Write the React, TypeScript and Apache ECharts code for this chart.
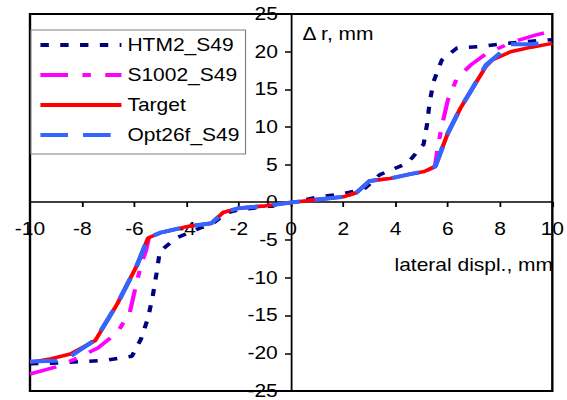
import React, { useEffect, useRef } from "react";
import * as echarts from "echarts";

// x ticks / y ticks
const xTicks = [-10, -8, -6, -4, -2, 0, 2, 4, 6, 8, 10];
const yTicks = [-25, -20, -15, -10, -5, 0, 5, 10, 15, 20, 25];

const seriesNames = ["HTM2_S49", "S1002_S49", "Target", "Opt26f_S49"];

// [lateral displ., Δr]
const htm2: number[][] = [
  [-10, -21.4], [-8.95, -21.3], [-8.0, -21.1], [-7.05, -20.9], [-6.1, -20.4],
  [-5.75, -18.1], [-5.48, -15.3], [-5.3, -12.4], [-5.16, -9.5], [-5.03, -6.5],
  [-4.4, -4.7], [-3.5, -3.4], [-3.0, -2.8], [-2.5, -1.4], [-1.9, -0.9],
  [-1.0, -0.6], [0, 0], [1.0, 0.7], [1.95, 1.15], [2.8, 1.8], [3.4, 3.7],
  [4.45, 5.2], [5.07, 7.7], [5.2, 10.3], [5.3, 13.2], [5.45, 16.0],
  [5.77, 18.9], [6.35, 20.5], [7.3, 20.7], [8.2, 21.1], [9.2, 21.4], [10, 21.6],
];

const s1002: number[][] = [
  [-10, -22.75], [-9.0, -21.8], [-8.3, -20.8], [-7.4, -19.3], [-6.65, -17.2],
  [-6.18, -14.6], [-5.93, -10.8], [-5.74, -8.2], [-5.55, -6.3], [-5.45, -4.7],
  [-5.0, -4.0], [-4.0, -3.2], [-3.05, -2.75], [-2.6, -1.3], [-2.0, -0.75],
  [-1.0, -0.45], [0, 0], [1.0, 0.4], [2.0, 0.75], [2.5, 1.3], [3.0, 2.85],
  [3.8, 3.2], [4.6, 3.8], [5.1, 4.1], [5.5, 4.7], [5.64, 7.9], [5.84, 11.2],
  [6.0, 13.6], [6.35, 16.5], [6.9, 18.3], [7.5, 19.8], [8.5, 21.3],
  [9.35, 22.2], [10, 22.75],
];

const target: number[][] = [
  [-10, -21.2], [-9.3, -20.8], [-8.45, -20.1], [-7.5, -18.3], [-6.65, -13.4],
  [-5.9, -8.3], [-5.48, -4.7], [-5.0, -4.0], [-4.0, -3.2], [-3.05, -2.75],
  [-2.6, -1.3], [-2.0, -0.75], [-1.0, -0.45], [0, 0], [1.0, 0.4], [2.0, 0.75],
  [2.5, 1.3], [3.0, 2.85], [3.8, 3.2], [4.6, 3.8], [5.1, 4.1], [5.52, 4.8],
  [6.0, 9.2], [6.48, 12.5], [6.9, 14.9], [7.45, 18.0], [7.7, 18.9],
  [8.4, 20.0], [9.2, 20.6], [10, 21.1],
];

const opt26f: number[][] = [
  [-10, -21.1], [-9.0, -21.0], [-8.45, -20.4], [-7.5, -18.2], [-6.65, -13.4],
  [-5.9, -8.3], [-5.48, -4.7], [-5.0, -4.0], [-4.0, -3.2], [-3.05, -2.75],
  [-2.6, -1.3], [-2.0, -0.75], [-1.0, -0.45], [0, 0], [1.0, 0.4], [2.0, 0.75],
  [2.5, 1.3], [3.0, 2.85], [3.8, 3.2], [4.6, 3.8], [5.1, 4.1], [5.52, 4.8],
  [6.0, 9.2], [6.48, 12.5], [6.9, 14.9], [7.45, 18.2], [8.4, 21.0],
  [9.2, 21.0], [10, 21.3],
];

const FONT = "'Liberation Sans', Arial, sans-serif";
const FS = 17.5;
const GRID_W = 435;
const GRID_H = 378;

export default function App() {
  const ref = useRef<HTMLDivElement>(null);
  useEffect(() => {
    if (!ref.current) return;
    const chart = echarts.init(ref.current, undefined, { renderer: "svg" });
    const mkSeries = (name: string, data: number[][], color: string, width: number, dash: any, z: number) => ({
      name,
      type: "line",
      data,
      showSymbol: false,
      symbol: "none",
      smooth: false,
      z,
      lineStyle: { color, width, type: dash, cap: "butt" },
      itemStyle: { color },
    });
    chart.setOption({
      animation: false,
      backgroundColor: "#fff",
      textStyle: { fontFamily: FONT },
      grid: {
        left: 25,
        right: 12.5,
        top: 14,
        bottom: 8,
        show: true,
        borderColor: "#000",
        borderWidth: 2,
        backgroundColor: "transparent",
      },
      legend: {
        orient: "vertical",
        left: 25.8,
        top: 30,
        padding: [5, 5, 9, 6],
        itemWidth: 67.5,
        itemHeight: 14,
        itemGap: 10,
        borderColor: "#808080",
        borderWidth: 1,
        backgroundColor: "#fff",
        data: seriesNames,
        itemStyle: { opacity: 0 },
        lineStyle: { width: 3.8 },
        textStyle: { fontFamily: FONT, fontSize: FS, color: "#000", lineHeight: 20 },
      },
      xAxis: {
        type: "value",
        position: "bottom",
        offset: -GRID_H / 2,
        min: xTicks[0],
        max: xTicks[xTicks.length - 1],
        interval: 2,
        axisLine: { onZero: false, lineStyle: { color: "#000", width: 1.5 } },
        axisTick: { show: true, length: 5, lineStyle: { color: "#000", width: 1.5 } },
        axisLabel: { fontFamily: FONT, fontSize: FS, color: "#000", margin: 18 },
        splitLine: { show: false },
      },
      yAxis: {
        type: "value",
        position: "left",
        offset: -GRID_W / 2,
        min: yTicks[0],
        max: yTicks[yTicks.length - 1],
        interval: 5,
        axisLine: { onZero: false, lineStyle: { color: "#000", width: 1.5 } },
        axisTick: { show: true, length: 5, lineStyle: { color: "#000", width: 1.5 } },
        axisLabel: { fontFamily: FONT, fontSize: FS, color: "#000", margin: 11 },
        splitLine: { show: false },
      },
      graphic: [
        {
          type: "text",
          left: 252,
          top: 25,
          style: { text: "Δ r, mm", font: `${FS}px ${FONT}`, fill: "#000" },
        },
        {
          type: "text",
          right: 12,
          top: 256,
          style: { text: "lateral displ., mm", font: `${FS}px ${FONT}`, fill: "#000" },
        },
      ],
      series: [
        mkSeries(seriesNames[0], htm2, "#000080", 3.5, [7, 9.5], 2),
        mkSeries(seriesNames[1], s1002, "#FF00FF", 3.5, [23, 12, 7, 12], 3),
        mkSeries(seriesNames[2], target, "#FF0000", 3.5, "solid", 4),
        mkSeries(seriesNames[3], opt26f, "#3366FF", 4, [23, 12.5], 5),
      ],
    });
    return () => chart.dispose();
  }, []);
  return (
    <div
      style={{
        position: "fixed",
        left: 0,
        top: 0,
        width: 567,
        height: 400,
        overflow: "hidden",
        background: "#fff",
      }}
    >
      <div
        ref={ref}
        style={{
          width: 472.5,
          height: 400,
          transform: "scaleX(1.2)",
          transformOrigin: "0 0",
        }}
      />
    </div>
  );
}
